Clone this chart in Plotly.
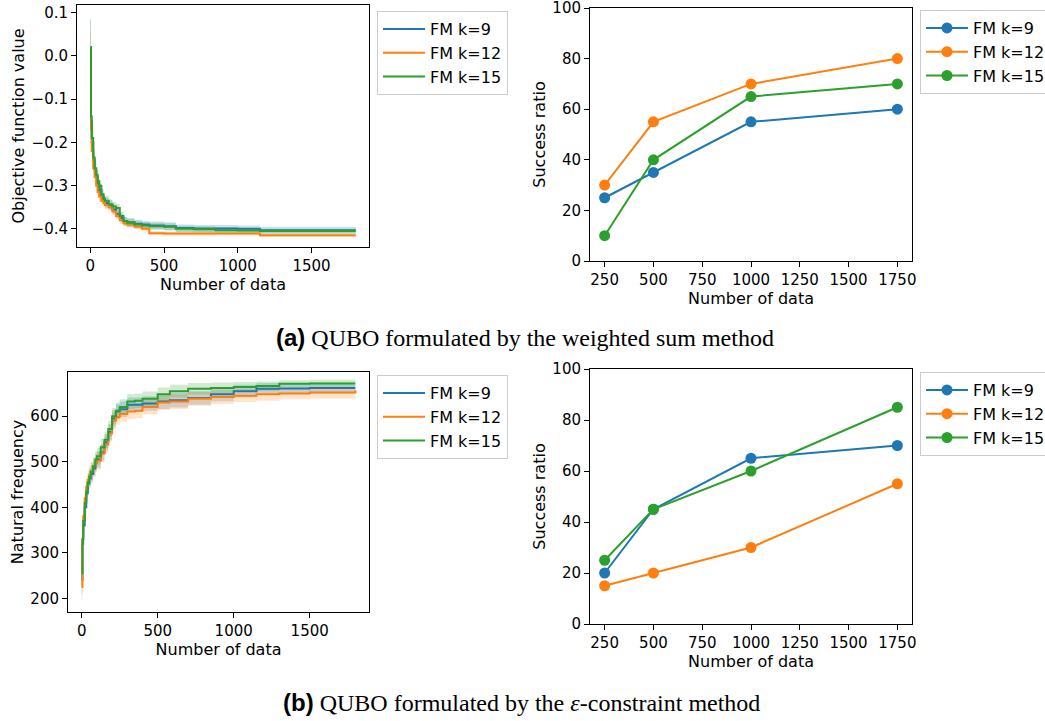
import plotly.graph_objects as go

# ---------------- data ----------------
series_names = ["FM k=9", "FM k=12", "FM k=15"]
colors = ["#1f77b4", "#ff7f0e", "#2ca02c"]
band_colors = ["rgba(31,119,180,0.22)", "rgba(255,127,14,0.22)", "rgba(44,160,44,0.22)"]

# convergence step curves (shared x breakpoints)
conv_x = [0, 5, 10, 20, 30, 40, 50, 60, 75, 90, 100, 125, 150, 175, 200, 225, 250,
          300, 350, 400, 500, 580, 700, 850, 1000, 1150, 1300, 1500, 1800]

# (a) objective function value
obj_k9 = [0.02, -0.15, -0.20, -0.24, -0.265, -0.28, -0.295, -0.31, -0.325, -0.335, -0.34,
          -0.345, -0.355, -0.365, -0.375, -0.382, -0.385, -0.388, -0.39, -0.392, -0.394,
          -0.398, -0.399, -0.399, -0.400, -0.403, -0.403, -0.403, -0.403]
obj_k12 = [0.015, -0.17, -0.22, -0.26, -0.28, -0.30, -0.315, -0.325, -0.335, -0.34, -0.345,
           -0.35, -0.36, -0.37, -0.38, -0.387, -0.39, -0.395, -0.40, -0.410, -0.411,
           -0.411, -0.411, -0.411, -0.411, -0.415, -0.415, -0.415, -0.415]
obj_k15 = [0.02, -0.14, -0.19, -0.235, -0.26, -0.275, -0.29, -0.30, -0.32, -0.33, -0.335,
           -0.343, -0.348, -0.352, -0.37, -0.382, -0.386, -0.39, -0.392, -0.394, -0.395,
           -0.40, -0.401, -0.403, -0.404, -0.405, -0.405, -0.405, -0.405]
obj_hw_k9 = [0.065, 0.04, 0.03, 0.02, 0.018, 0.016, 0.015, 0.014, 0.013, 0.012, 0.012,
             0.011, 0.011, 0.010, 0.010, 0.010, 0.010, 0.009, 0.009, 0.009, 0.009,
             0.008, 0.008, 0.008, 0.008, 0.008, 0.008, 0.008, 0.008]
obj_hw_k12 = [0.04, 0.03, 0.025, 0.02, 0.016, 0.014, 0.013, 0.012, 0.011, 0.010, 0.010,
              0.009, 0.009, 0.008, 0.008, 0.007, 0.007, 0.006, 0.006, 0.005, 0.005,
              0.005, 0.005, 0.004, 0.004, 0.004, 0.004, 0.004, 0.004]
obj_hw_k15 = [0.065, 0.04, 0.03, 0.022, 0.018, 0.016, 0.015, 0.014, 0.013, 0.012, 0.012,
              0.011, 0.011, 0.010, 0.010, 0.009, 0.009, 0.009, 0.008, 0.008, 0.008,
              0.007, 0.007, 0.007, 0.006, 0.006, 0.006, 0.006, 0.006]

# (b) natural frequency
nf_k9 = [240, 320, 360, 400, 430, 452, 463, 473, 485, 498, 505, 520, 543, 565, 595, 610, 615,
         625, 625, 628, 632, 635, 640, 648, 655, 660, 661, 662, 662]
nf_k12 = [225, 330, 380, 420, 445, 460, 470, 480, 490, 497, 502, 518, 538, 562, 590, 598, 605,
          610, 612, 620, 630, 632, 638, 642, 645, 648, 650, 652, 657]
nf_k15 = [255, 330, 370, 410, 435, 455, 467, 478, 490, 505, 512, 532, 548, 572, 600, 612, 620,
          632, 634, 638, 648, 655, 660, 662, 664, 666, 671, 672, 672]
nf_hw_k9 = [30, 28, 26, 24, 22, 20, 20, 19, 18, 18, 18, 18, 18, 18, 18, 17, 17,
            16, 16, 16, 16, 16, 15, 15, 14, 13, 12, 12, 12]
nf_hw_k12 = [30, 28, 26, 24, 22, 22, 20, 20, 20, 20, 19, 19, 19, 18, 18, 17, 17,
             16, 16, 16, 16, 16, 15, 15, 14, 14, 13, 13, 13]
nf_hw_k15 = [30, 28, 26, 24, 22, 20, 20, 19, 18, 18, 18, 18, 18, 18, 18, 18, 17,
             16, 16, 16, 15, 14, 13, 12, 11, 10, 8, 8, 8]

# success ratios
ratio_x = [250, 500, 1000, 1750]
ratio_a_k9 = [25, 35, 55, 60]
ratio_a_k12 = [30, 55, 70, 80]
ratio_a_k15 = [10, 40, 65, 70]
ratio_b_k9 = [20, 45, 65, 70]
ratio_b_k12 = [15, 20, 30, 55]
ratio_b_k15 = [25, 45, 60, 85]

captions = ["<span style=\"font-family:'Liberation Sans';font-weight:bold\">(a)</span> QUBO formulated by the weighted sum method",
            "<span style=\"font-family:'Liberation Sans';font-weight:bold\">(b)</span> QUBO formulated by the <i>ε</i>-constraint method"]

# ---------------- figure ----------------
fig = go.Figure()
FONT = "DejaVu Sans"


def add_conv(means, hws, xa, ya, leg):
    for i, (m, hw) in enumerate(zip(means, hws)):
        lo = [a - b for a, b in zip(m, hw)]
        hi = [a + b for a, b in zip(m, hw)]
        fig.add_trace(go.Scatter(x=conv_x, y=lo, mode="lines", line=dict(width=0, shape="hv"),
                                 xaxis=xa, yaxis=ya, showlegend=False, hoverinfo="skip"))
        fig.add_trace(go.Scatter(x=conv_x, y=hi, mode="lines", line=dict(width=0, shape="hv"),
                                 fill="tonexty", fillcolor=band_colors[i],
                                 xaxis=xa, yaxis=ya, showlegend=False, hoverinfo="skip"))
    for i, m in enumerate(means):
        fig.add_trace(go.Scatter(x=conv_x, y=m, mode="lines", name=series_names[i],
                                 line=dict(color=colors[i], width=2, shape="hv"),
                                 xaxis=xa, yaxis=ya, legend=leg))


def add_ratio(vals, xa, ya, leg):
    for i, v in enumerate(vals):
        fig.add_trace(go.Scatter(x=ratio_x, y=v, mode="lines+markers", name=series_names[i],
                                 line=dict(color=colors[i], width=2),
                                 marker=dict(color=colors[i], size=11),
                                 xaxis=xa, yaxis=ya, legend=leg))


add_conv([obj_k9, obj_k12, obj_k15], [obj_hw_k9, obj_hw_k12, obj_hw_k15], "x", "y", "legend")
add_ratio([ratio_a_k9, ratio_a_k12, ratio_a_k15], "x2", "y2", "legend2")
add_conv([nf_k9, nf_k12, nf_k15], [nf_hw_k9, nf_hw_k12, nf_hw_k15], "x3", "y3", "legend3")
add_ratio([ratio_b_k9, ratio_b_k12, ratio_b_k15], "x4", "y4", "legend4")

W, H = 1045, 721


def px(x):
    return x / W


def py(y):
    return 1 - y / H


def dx(a, b):
    return [px(a), px(b)]


def dy(top, bottom):
    return [py(bottom), py(top)]


axis_common = dict(showline=True, linecolor="black", linewidth=1, mirror=True,
                   ticks="outside", ticklen=5, tickcolor="black", showgrid=False,
                   zeroline=False, automargin=False, ticklabeloverflow="allow",
                   tickfont=dict(family=FONT, size=15, color="black"),
                   title_font=dict(family=FONT, size=16, color="black"))

fig.update_layout(
    width=W, height=H, margin=dict(l=0, r=0, t=0, b=0, autoexpand=False),
    plot_bgcolor="white", paper_bgcolor="white",
    font=dict(family=FONT, size=15, color="black"),
    xaxis=dict(domain=dx(77, 369), range=[-90, 1890], tickvals=[0, 500, 1000, 1500],
               title=dict(text="Number of data", standoff=2), anchor="y", **axis_common),
    yaxis=dict(domain=dy(5, 247), range=[-0.442, 0.118], tickvals=[-0.4, -0.3, -0.2, -0.1, 0.0, 0.1],
               tickformat=".1f", title=dict(text="Objective function value", standoff=2),
               anchor="x", **axis_common),
    xaxis2=dict(domain=dx(590, 912), range=[175, 1825], tickvals=[250, 500, 750, 1000, 1250, 1500, 1750],
                title=dict(text="Number of data", standoff=2), anchor="y2", **axis_common),
    yaxis2=dict(domain=dy(8, 261), range=[0, 100], tickvals=[0, 20, 40, 60, 80, 100],
                title=dict(text="Success ratio", standoff=2), anchor="x2", **axis_common),
    xaxis3=dict(domain=dx(68, 369), range=[-90, 1890], tickvals=[0, 500, 1000, 1500],
                title=dict(text="Number of data", standoff=2), anchor="y3", **axis_common),
    yaxis3=dict(domain=dy(372, 612), range=[170, 697], tickvals=[200, 300, 400, 500, 600],
                title=dict(text="Natural frequency", standoff=2), anchor="x3", **axis_common),
    xaxis4=dict(domain=dx(590, 912), range=[175, 1825], tickvals=[250, 500, 750, 1000, 1250, 1500, 1750],
                title=dict(text="Number of data", standoff=2), anchor="y4", **axis_common),
    yaxis4=dict(domain=dy(369, 624), range=[0, 100], tickvals=[0, 20, 40, 60, 80, 100],
                title=dict(text="Success ratio", standoff=2), anchor="x4", **axis_common),
)

legend_common = dict(bgcolor="white", bordercolor="#cccccc", borderwidth=1,
                     font=dict(family=FONT, size=16, color="black"), traceorder="normal",
                     xanchor="left", yanchor="top", itemwidth=42, tracegroupgap=0)
fig.update_layout(
    legend=dict(x=px(377), y=py(11), **legend_common),
    legend2=dict(x=px(920), y=py(10), **legend_common),
    legend3=dict(x=px(377), y=py(375), **legend_common),
    legend4=dict(x=px(920), y=py(372), **legend_common),
)

fig.add_annotation(text=captions[0], x=px(525), y=py(337), xref="paper", yref="paper",
                   showarrow=False, xanchor="center", yanchor="middle",
                   font=dict(family="Liberation Serif", size=24, color="black"))
fig.add_annotation(text=captions[1], x=px(521), y=py(702), xref="paper", yref="paper",
                   showarrow=False, xanchor="center", yanchor="middle",
                   font=dict(family="Liberation Serif", size=24, color="black"))

# the page's default 8px body margin would shift the figure; remove it
fig.write_html("out.html", config={"displayModeBar": False},
               post_script="document.body.style.margin='0';")
